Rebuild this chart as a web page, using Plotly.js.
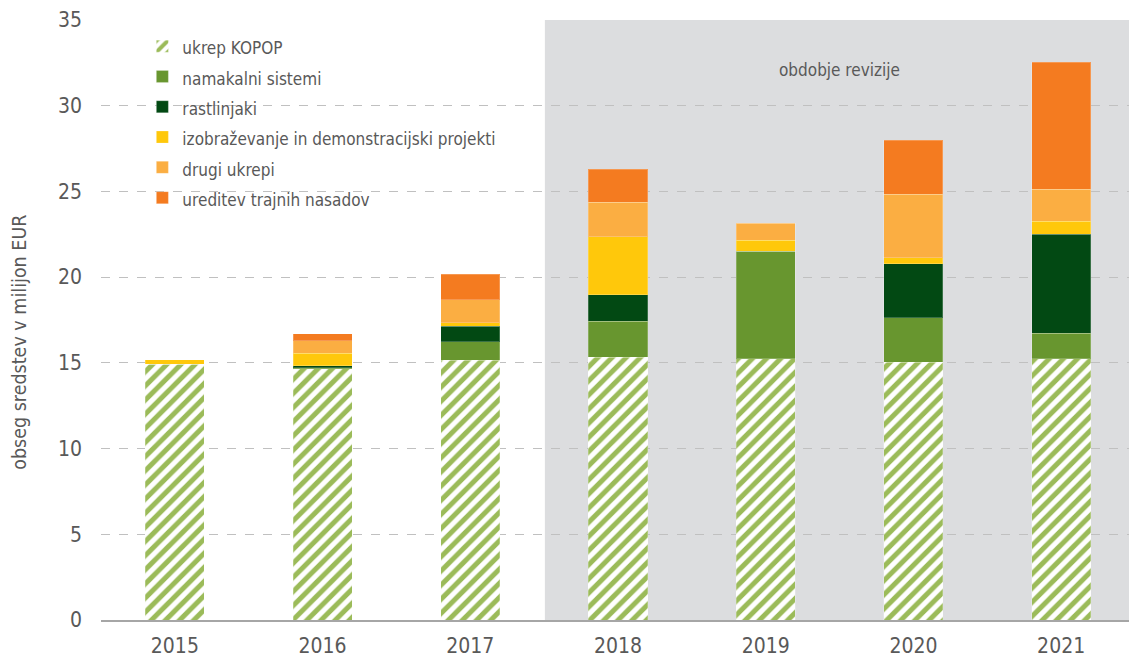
<!DOCTYPE html>
<html>
<head>
<meta charset="utf-8">
<script src="https://cdn.plot.ly/plotly-3.0.1.min.js"></script>
<style>html,body{margin:0;padding:0;overflow:hidden;background:#fff;}#chart{width:1135px;height:657px;}</style>
</head>
<body>
<div id="chart"></div>
<script>
const years = ['2015','2016','2017','2018','2019','2020','2021'];
const kopop       = [14.93, 14.66, 15.15, 15.34, 15.24, 15.05, 15.24];
const namakalni   = [0,     0.05,  1.09,  2.10,  6.26,  2.59,  1.48];
const rastlinjaki = [0,     0.12,  0.91,  1.52,  0,     3.15,  5.78];
const izobrazevanje = [0.26, 0.74, 0.20,  3.40,  0.66,  0.35,  0.77];
const drugi       = [0,     0.72,  1.34,  2.02,  0.98,  3.69,  1.85];
const nasadi      = [0,     0.41,  1.47,  1.91,  0,     3.15,  7.41];
const seriesNames = ['ukrep KOPOP','namakalni sistemi','rastlinjaki','izobraževanje in demonstracijski projekti','drugi ukrepi','ureditev trajnih nasadov'];
const yTitle = 'obseg sredstev v milijon EUR';
const periodLabel = 'obdobje revizije';

const FONT = '"DejaVu Sans Condensed", "Liberation Sans Narrow", sans-serif';
const TXT = '#595959';
const outline = {color:'rgba(255,255,255,0.22)', width:1};
const lbl = s => '<span style="font-size:17px">' + s + '</span>';

const traces = [
  {name: seriesNames[0], y: kopop, marker:{color:'#ffffff', pattern:{shape:'/', fgcolor:'#9bbb59', bgcolor:'#ffffff', size:10, solidity:0.5, fillmode:'replace'}, line:outline}},
  {name: seriesNames[1], y: namakalni, marker:{color:'#68962f', line:outline}},
  {name: seriesNames[2], y: rastlinjaki, marker:{color:'#024913', line:outline}},
  {name: seriesNames[3], y: izobrazevanje, marker:{color:'#ffc80b', line:outline}},
  {name: seriesNames[4], y: drugi, marker:{color:'#fbae42', line:outline}},
  {name: seriesNames[5], y: nasadi, marker:{color:'#f47b20', line:outline}}
].map(t => Object.assign({type:'bar', x: years, hoverinfo:'y+name'}, t, {name: lbl(t.name)}));

const layout = {
  width: 1135, height: 657,
  margin: {l:101, r:0, t:20, b:37},
  barmode: 'stack',
  bargap: 0.6,
  paper_bgcolor: '#ffffff',
  plot_bgcolor: '#ffffff',
  font: {family: FONT, color: TXT, size: 17},
  xaxis: {
    type:'category', range:[-0.5, 6.5],
    showgrid:false, showline:true, linecolor:'#a6a6a6', linewidth:1.5,
    ticks:'', ticklabelstandoff: 6,
    tickfont:{size:21, color:TXT, family:FONT}, fixedrange:true
  },
  yaxis: {
    range:[0,35], dtick:5, tick0:0,
    showgrid:true, gridcolor:'#c0c0c0', griddash:'dash', gridwidth:1,
    zeroline:false, showline:false,
    ticks:'', ticklabelstandoff: 18,
    tickfont:{size:21, color:TXT, family:FONT},
    fixedrange:true
  },
  legend: {
    x: 0.04, y: 0.99, xanchor:'left', yanchor:'top',
    bgcolor:'rgba(0,0,0,0)', traceorder:'normal',
    font:{size:21, color:TXT, family:FONT}, tracegroupgap:0
  },
  shapes: [{
    type:'rect', layer:'below', xref:'x', yref:'y',
    x0: 2.505, x1: 6.6, y0: 0, y1: 35,
    fillcolor:'#dcdddf', line:{width:0}
  }],
  annotations: [{
    xref:'x', yref:'y', x: 4.5, y: 32.1, text: periodLabel, showarrow:false,
    font:{size:17, color:TXT, family:FONT}
  }, {
    xref:'paper', yref:'paper', x: 0, y: 0.462, xshift: -81, textangle: -90,
    text: yTitle, showarrow:false, xanchor:'center', yanchor:'middle',
    font:{size:19.5, color:TXT, family:FONT}
  }]
};

Plotly.newPlot('chart', traces, layout, {displayModeBar:false, staticPlot:true});
</script>
</body>
</html>
